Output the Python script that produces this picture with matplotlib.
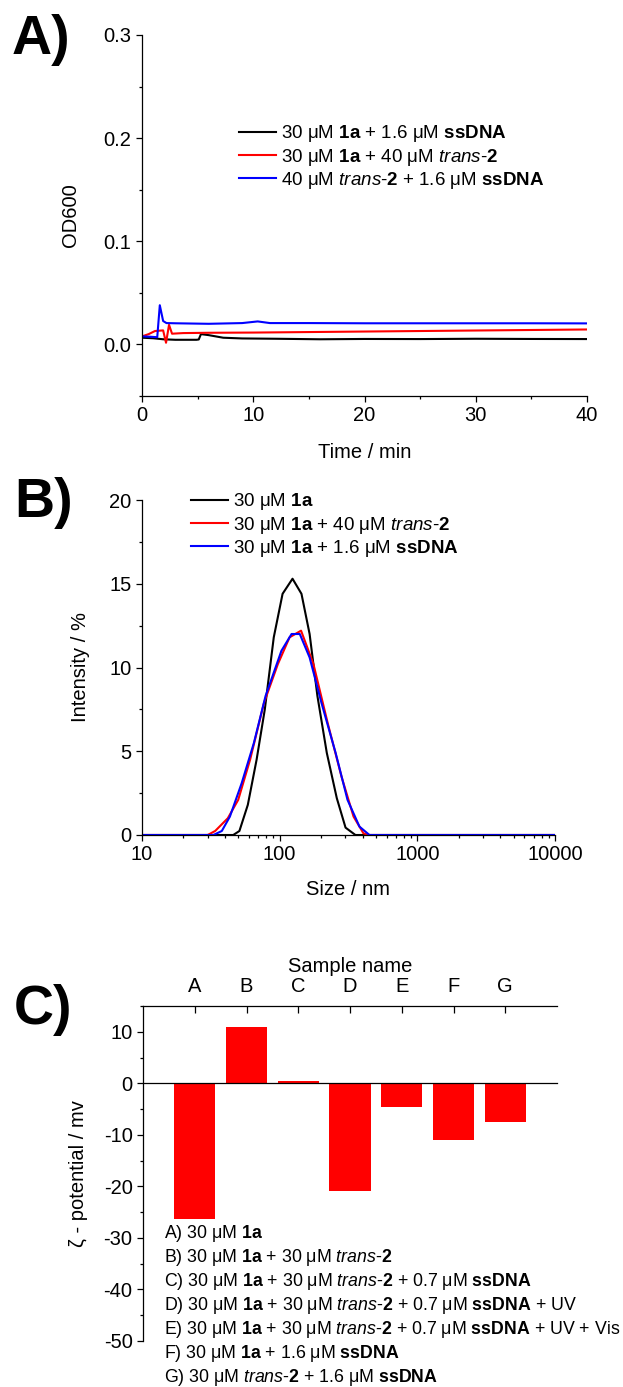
import numpy as np
import matplotlib
matplotlib.use('Agg')
import matplotlib.pyplot as plt
from matplotlib.ticker import MultipleLocator, LogLocator, NullFormatter

plt.rcParams['font.family'] = ['Liberation Sans', 'DejaVu Sans']
plt.rcParams['mathtext.fontset'] = 'custom'
plt.rcParams['mathtext.rm'] = 'Liberation Sans'
plt.rcParams['mathtext.it'] = 'Liberation Sans:italic'
plt.rcParams['mathtext.bf'] = 'Liberation Sans:bold'
plt.rcParams['axes.unicode_minus'] = False
plt.rcParams['axes.linewidth'] = 0.9

# ---- panel A: OD600 vs time ----
black_t = [0, 1, 1.9, 3, 4.9, 5.1, 5.3, 6, 7.3, 9, 12, 16, 20, 25, 30, 35, 40]
black_od = [0.0065, 0.006, 0.005, 0.0045, 0.0045, 0.0048, 0.0100, 0.009, 0.0065, 0.0058, 0.0055,
            0.005, 0.0053, 0.0052, 0.0055, 0.0053, 0.0052]
red_t = [0, 0.6, 1.17, 1.9, 2.16, 2.43, 2.7, 3.7, 6, 10, 15, 20, 25, 30, 35, 40]
red_od = [0.0078, 0.010, 0.013, 0.0136, 0.0016, 0.019, 0.0104, 0.011, 0.0113, 0.0115, 0.012,
          0.0125, 0.013, 0.0135, 0.014, 0.0145]
blue_t = [0, 0.7, 1.37, 1.6, 1.9, 2.2, 3, 6, 9, 10.4, 11.5, 15, 20, 25, 30, 35, 40]
blue_od = [0.0078, 0.0075, 0.007, 0.038, 0.0227, 0.0207, 0.0205, 0.020, 0.0207, 0.0223, 0.0207,
           0.0207, 0.0205, 0.0205, 0.0205, 0.0205, 0.0204]

# ---- panel B: DLS size distribution ----
black_size = [10, 46, 51, 58.7, 68, 78, 90.6, 105, 124, 144, 165, 188, 220, 260, 301, 355, 10000]
black_int = [0, 0, 0.24, 1.8, 4.5, 7.5, 11.8, 14.4, 15.3, 14.4, 12.0, 8.3, 4.9, 2.2, 0.44, 0, 0]
red_size = [10, 30, 34, 42, 50, 61, 77, 97, 118, 143, 176, 223, 281, 344, 406, 440, 10000]
red_int = [0, 0, 0.24, 1.0, 2.1, 4.5, 7.9, 10.2, 11.8, 12.2, 10.2, 6.7, 3.5, 1.1, 0.1, 0, 0]
blue_size = [10, 33, 38, 43.5, 53, 65, 79, 103, 122, 140, 165, 201, 255, 311, 380, 449, 10000]
blue_int = [0, 0, 0.24, 1.1, 3.1, 5.5, 8.3, 11.0, 12.0, 12.0, 10.6, 7.9, 4.9, 2.1, 0.5, 0, 0]

# ---- panel C: zeta potential ----
samples = ['A', 'B', 'C', 'D', 'E', 'F', 'G']
zeta = [-26.3, 10.9, 0.4, -20.9, -4.5, -11.0, -7.5]
sample_desc = [
    r'A) 30 μM $\mathbf{1a}$',
    r'B) 30 μM $\mathbf{1a}$ + 30 μM $\mathit{trans}$-$\mathbf{2}$',
    r'C) 30 μM $\mathbf{1a}$ + 30 μM $\mathit{trans}$-$\mathbf{2}$ + 0.7 μM $\mathbf{ssDNA}$',
    r'D) 30 μM $\mathbf{1a}$ + 30 μM $\mathit{trans}$-$\mathbf{2}$ + 0.7 μM $\mathbf{ssDNA}$ + UV',
    r'E) 30 μM $\mathbf{1a}$ + 30 μM $\mathit{trans}$-$\mathbf{2}$ + 0.7 μM $\mathbf{ssDNA}$ + UV + Vis',
    r'F) 30 μM $\mathbf{1a}$ + 1.6 μM $\mathbf{ssDNA}$',
    r'G) 30 μM $\mathit{trans}$-$\mathbf{2}$ + 1.6 μM $\mathbf{ssDNA}$',
]

W, H = 623, 1387
fig = plt.figure(figsize=(W / 100, H / 100), dpi=100)

TICK = 14.5
LABEL = 14.5
LEG = 13.5


def px_axes(left, top, right, bottom):
    return fig.add_axes([left / W, 1 - bottom / H, (right - left) / W, (bottom - top) / H])


def style(ax):
    ax.spines['top'].set_visible(False)
    ax.spines['right'].set_visible(False)
    ax.tick_params(which='major', direction='out', length=4.5, width=0.9, labelsize=TICK, pad=3)
    ax.tick_params(which='minor', direction='out', length=2.2, width=0.9)


lw = 1.5

# A
axA = px_axes(142, 35, 587, 396)
axA.plot(black_t, black_od, color='black', lw=lw, label=r'30 μM $\mathbf{1a}$ + 1.6 μM $\mathbf{ssDNA}$')
axA.plot(red_t, red_od, color='red', lw=lw, label=r'30 μM $\mathbf{1a}$ + 40 μM $\mathit{trans}$-$\mathbf{2}$')
axA.plot(blue_t, blue_od, color='blue', lw=lw, label=r'40 μM $\mathit{trans}$-$\mathbf{2}$ + 1.6 μM $\mathbf{ssDNA}$')
axA.set_xlim(0, 40)
axA.set_ylim(-0.05, 0.3)
axA.xaxis.set_major_locator(MultipleLocator(10))
axA.xaxis.set_minor_locator(MultipleLocator(5))
axA.yaxis.set_major_locator(MultipleLocator(0.1))
axA.yaxis.set_minor_locator(MultipleLocator(0.05))
axA.yaxis.set_major_formatter(matplotlib.ticker.FormatStrFormatter('%.1f'))
style(axA)
axA.set_xlabel('Time / min', fontsize=LABEL, labelpad=13)
axA.set_ylabel('OD600', fontsize=LABEL, labelpad=17)
axA.legend(loc='center left', bbox_to_anchor=(0.2, 0.662), frameon=False, fontsize=LEG,
           handlelength=2.0, handletextpad=0.25, labelspacing=0.12, borderaxespad=0)
fig.text(12 / W, 1 - 40 / H, 'A)', fontsize=40, fontweight='bold', va='center', ha='left')

# B
axB = px_axes(142, 500, 555, 835)
axB.plot(black_size, black_int, color='black', lw=lw, label=r'30 μM $\mathbf{1a}$')
axB.plot(red_size, red_int, color='red', lw=lw, label=r'30 μM $\mathbf{1a}$ + 40 μM $\mathit{trans}$-$\mathbf{2}$')
axB.plot(blue_size, blue_int, color='blue', lw=lw, label=r'30 μM $\mathbf{1a}$ + 1.6 μM $\mathbf{ssDNA}$')
axB.set_xscale('log')
axB.set_xlim(10, 10000)
axB.set_ylim(0, 20)
axB.yaxis.set_major_locator(MultipleLocator(5))
axB.yaxis.set_minor_locator(MultipleLocator(2.5))
axB.xaxis.set_major_formatter(matplotlib.ticker.FuncFormatter(lambda v, p: '%d' % v))
axB.xaxis.set_minor_locator(LogLocator(base=10, subs=np.arange(2, 10)))
axB.xaxis.set_minor_formatter(NullFormatter())
style(axB)
axB.set_xlabel('Size / nm', fontsize=LABEL, labelpad=11)
axB.set_ylabel('Intensity / %', fontsize=LABEL, labelpad=14)
axB.legend(loc='center left', bbox_to_anchor=(0.1, 0.925), frameon=False, fontsize=LEG,
           handlelength=2.0, handletextpad=0.25, labelspacing=0.12, borderaxespad=0)
fig.text(14 / W, 1 - 503 / H, 'B)', fontsize=40, fontweight='bold', va='center', ha='left')

# C
axC = px_axes(143, 1006, 557, 1341)
pos = np.arange(1, len(samples) + 1)
axC.bar(pos, zeta, width=0.8, color='#ff0000', edgecolor='none')
axC.set_xlim(0, 8)
axC.set_ylim(-50, 15)
axC.yaxis.set_major_locator(MultipleLocator(10))
axC.yaxis.set_minor_locator(MultipleLocator(5))
axC.spines['right'].set_visible(False)
axC.spines['bottom'].set_position(('data', 0))
axC.xaxis.tick_top()
axC.xaxis.set_label_position('top')
axC.set_xticks(pos)
axC.set_xticklabels(samples)
axC.tick_params(axis='x', which='major', direction='in', length=5, width=0.9, labelsize=TICK,
                top=True, bottom=False, pad=7)
axC.tick_params(axis='y', which='major', direction='out', length=4.5, width=0.9, labelsize=TICK, pad=3)
axC.tick_params(axis='y', which='minor', direction='out', length=2.2, width=0.9)
axC.set_xlabel('Sample name', fontsize=LABEL, labelpad=4)
axC.set_ylabel('ζ - potential / mv', fontsize=LABEL, labelpad=11)
for i, desc in enumerate(sample_desc):
    fig.text(164 / W, 1 - (1233 + 24 * i) / H, desc, fontsize=12.8, va='center', ha='left')
fig.text(14 / W, 1 - 1010 / H, 'C)', fontsize=40, fontweight='bold', va='center', ha='left')

fig.savefig('out.png', dpi=100)
